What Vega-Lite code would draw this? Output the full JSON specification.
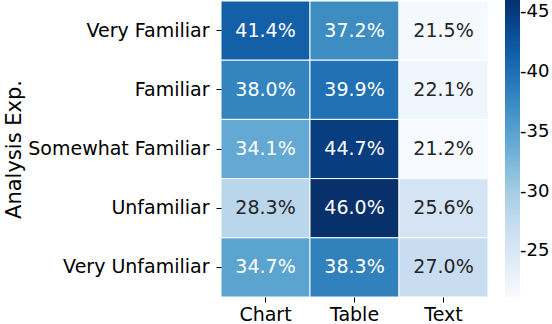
{
  "$schema": "https://vega.github.io/schema/vega-lite/v6.json",
  "autosize": "none",
  "width": 267,
  "height": 296,
  "padding": {"left": 221, "top": 1, "right": 64, "bottom": 27},
  "background": "white",
  "config": {
    "font": "DejaVu Sans",
    "view": {"stroke": null},
    "axis": {
      "labelFont": "DejaVu Sans",
      "labelFontSize": 19,
      "labelColor": "black",
      "labelLimit": 400,
      "tickColor": "black",
      "tickSize": 5,
      "tickWidth": 1,
      "domain": false,
      "grid": false,
      "titleFont": "DejaVu Sans",
      "titleFontWeight": "normal",
      "titleColor": "black"
    }
  },
  "data": {
    "values": [
      {"exp": "Very Familiar", "type": "Chart", "value": 41.4},
      {"exp": "Very Familiar", "type": "Table", "value": 37.2},
      {"exp": "Very Familiar", "type": "Text", "value": 21.5},
      {"exp": "Familiar", "type": "Chart", "value": 38.0},
      {"exp": "Familiar", "type": "Table", "value": 39.9},
      {"exp": "Familiar", "type": "Text", "value": 22.1},
      {"exp": "Somewhat Familiar", "type": "Chart", "value": 34.1},
      {"exp": "Somewhat Familiar", "type": "Table", "value": 44.7},
      {"exp": "Somewhat Familiar", "type": "Text", "value": 21.2},
      {"exp": "Unfamiliar", "type": "Chart", "value": 28.3},
      {"exp": "Unfamiliar", "type": "Table", "value": 46.0},
      {"exp": "Unfamiliar", "type": "Text", "value": 25.6},
      {"exp": "Very Unfamiliar", "type": "Chart", "value": 34.7},
      {"exp": "Very Unfamiliar", "type": "Table", "value": 38.3},
      {"exp": "Very Unfamiliar", "type": "Text", "value": 27.0}
    ]
  },
  "transform": [
    {"calculate": "format(datum.value, '.1f') + '%'", "as": "label"}
  ],
  "encoding": {
    "x": {
      "field": "type", "type": "nominal",
      "sort": ["Chart", "Table", "Text"],
      "scale": {"paddingInner": 0, "paddingOuter": 0},
      "axis": {"title": null, "labelAngle": 0, "labelPadding": 3, "orient": "bottom"}
    },
    "y": {
      "field": "exp", "type": "nominal",
      "sort": ["Very Familiar", "Familiar", "Somewhat Familiar", "Unfamiliar", "Very Unfamiliar"],
      "scale": {"paddingInner": 0, "paddingOuter": 0},
      "axis": {"title": "Analysis Exp.", "titleFontSize": 21, "titlePadding": 3, "labelPadding": 7}
    }
  },
  "layer": [
    {
      "mark": {"type": "rect", "stroke": "white", "strokeWidth": 1},
      "encoding": {
        "color": {
          "field": "value", "type": "quantitative",
          "scale": {
            "domain": [21.2, 24.3, 27.4, 30.5, 33.6, 36.7, 39.8, 42.9, 46.0],
            "range": ["#f7fbff", "#deebf7", "#c6dbef", "#9ecae1", "#6baed6", "#4292c6", "#2171b5", "#08519c", "#08306b"],
            "interpolate": "rgb"
          },
          "legend": {
            "title": null,
            "orient": "none",
            "legendX": 284,
            "legendY": -1,
            "padding": 0,
            "direction": "vertical",
            "gradientLength": 297,
            "gradientThickness": 15,
            "gradientStrokeWidth": 0,
            "values": [25, 30, 35, 40, 45],
            "labelExpr": "'-' + datum.label",
            "labelFont": "DejaVu Sans",
            "labelFontSize": 18,
            "labelColor": "black",
            "labelOffset": 0,
            "labelOverlap": false
          }
        }
      }
    },
    {
      "mark": {"type": "text", "fontSize": 19, "font": "DejaVu Sans"},
      "encoding": {
        "text": {"field": "label", "type": "nominal"},
        "color": {
          "condition": {"test": "datum.value > 31", "value": "white"},
          "value": "#262626"
        }
      }
    }
  ]
}
